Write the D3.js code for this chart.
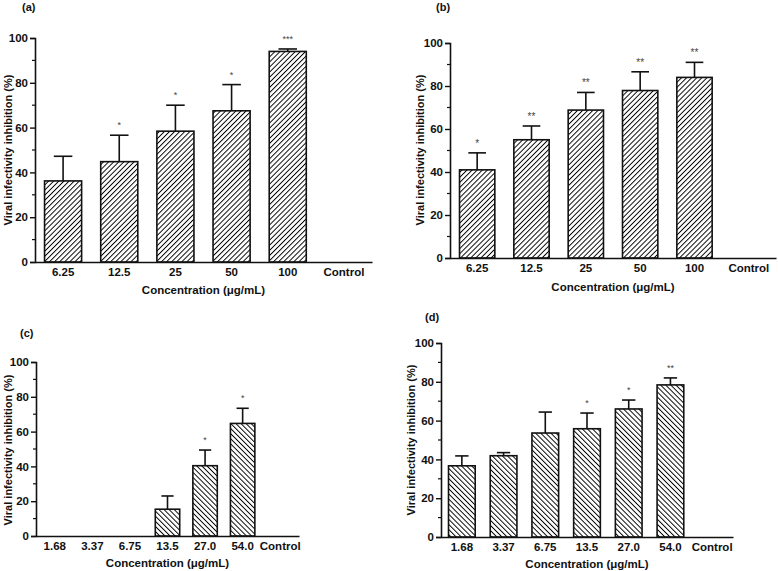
<!DOCTYPE html>
<html><head><meta charset="utf-8">
<script src="https://cdn.jsdelivr.net/npm/d3@7/dist/d3.min.js"></script>
<style>body{margin:0;background:#fff}svg{display:block}text{font-family:"Liberation Sans",Arial,sans-serif}</style>
</head><body>
<svg id="chart" width="778" height="571"></svg>
<script>
// ---- data ----
const catsAB = ["6.25","12.5","25","50","100","Control"];
const catsCD = ["1.68","3.37","6.75","13.5","27.0","54.0","Control"];
const yTicks = [0,20,40,60,80,100];

const meanA = [36.2, 44.8, 58.4, 67.5, 94.0, null];
const errA  = [47.2, 56.6, 70.0, 79.2, 95.1, null];
const starA = ["", "*", "*", "*", "***", ""];

const meanB = [41.0, 55.0, 68.8, 77.9, 84.0, null];
const errB  = [48.9, 61.4, 77.0, 86.6, 91.0, null];
const starB = ["*", "**", "**", "**", "**", ""];

const meanC = [null, null, null, 15.4, 40.4, 64.7, null];
const errC  = [null, null, null, 23.0, 49.4, 73.4, null];
const starC = ["", "", "", "", "*", "*", ""];

const meanD = [36.7, 41.9, 53.6, 55.8, 66.0, 78.4, null];
const errD  = [41.8, 43.5, 64.4, 63.9, 70.6, 82.0, null];
const starD = ["", "", "", "*", "*", "**", ""];

const yTitle = "Viral infectivity inhibition (%)";
const xTitle = "Concentration (\u03bcg/mL)";

const svg = d3.select("#chart");
const defs = svg.append("defs");
function hatch(id, dir){
  const s = 3.6;
  const p = defs.append("pattern").attr("id", id).attr("patternUnits","userSpaceOnUse")
    .attr("width", s).attr("height", s)
    .attr("patternTransform", "rotate(" + (dir > 0 ? 45 : -45) + ")");
  p.append("rect").attr("width",s).attr("height",s).attr("fill","#fff");
  p.append("line").attr("x1",0).attr("y1",0).attr("x2",0).attr("y2",s)
    .attr("stroke","#000").attr("stroke-width",1.9);
}
hatch("hR", 1);
hatch("hL", -1);

function panel(o){
  const g = svg.append("g");
  const x = d3.scaleBand().domain(o.cats).range([o.x0, o.x1]).paddingInner(o.pad).paddingOuter(o.pad/2);
  const y = d3.scaleLinear().domain([0,100]).range([o.y0, o.y1]);
  const data = o.cats.map((c,i)=>({c, m:o.mean[i], e:o.err[i], s:o.star[i]})).filter(d=>d.m!=null);

  // bars
  g.selectAll("rect.bar").data(data).join("rect")
    .attr("x", d=>x(d.c)).attr("width", x.bandwidth())
    .attr("y", d=>y(d.m)).attr("height", d=>y(0)-y(d.m))
    .attr("fill", "url(#" + o.pat + ")").attr("stroke","#111").attr("stroke-width",1.6);
  // error bars
  const cw = x.bandwidth()/2;
  g.selectAll("line.ev").data(data).join("line")
    .attr("x1", d=>x(d.c)+x.bandwidth()/2).attr("x2", d=>x(d.c)+x.bandwidth()/2)
    .attr("y1", d=>y(d.m)).attr("y2", d=>y(d.e)).attr("stroke","#111").attr("stroke-width",1.6);
  g.selectAll("line.ec").data(data).join("line")
    .attr("x1", d=>x(d.c)+x.bandwidth()/2-cw/2).attr("x2", d=>x(d.c)+x.bandwidth()/2+cw/2)
    .attr("y1", d=>y(d.e)).attr("y2", d=>y(d.e)).attr("stroke","#111").attr("stroke-width",1.6);
  // stars
  g.selectAll("text.st").data(data.filter(d=>d.s)).join("text")
    .attr("x", d=>x(d.c)+x.bandwidth()/2).attr("y", d=>y(d.e)-o.starOff)
    .attr("text-anchor","middle").attr("font-size", o.starSize).attr("fill","#444").text(d=>d.s);

  // y axis
  const ya = d3.axisLeft(y).tickValues(yTicks).tickSize(5).tickPadding(2);
  const yg = g.append("g").attr("transform","translate(" + o.x0 + ",0)").call(ya);
  yg.select(".domain").attr("stroke","#111").attr("stroke-width",1.6);
  yg.selectAll(".tick line").attr("stroke","#111").attr("stroke-width",1.4);
  yg.selectAll(".tick text").attr("font-size",11.5).attr("font-weight","bold").attr("fill","#111");
  // minor ticks
  g.selectAll("line.mt").data(d3.range(10,100,20)).join("line")
    .attr("x1", o.x0-3).attr("x2", o.x0).attr("y1", d=>y(d)).attr("y2", d=>y(d))
    .attr("stroke","#111").attr("stroke-width",1.2);

  // x axis
  const xa = d3.axisBottom(x).tickSize(0).tickPadding(o.xPad);
  const xg = g.append("g").attr("transform","translate(0," + o.y0 + ")").call(xa);
  xg.select(".domain").attr("stroke","#111").attr("stroke-width",1.6);
  xg.selectAll(".tick text").attr("font-size",11.5).attr("font-weight","bold").attr("fill","#111");

  // titles
  g.append("text").attr("x", (o.x0+o.x1)/2 + o.xtDx).attr("y", o.y0 + o.xtDy)
    .attr("text-anchor","middle").attr("font-size",11.5).attr("font-weight","bold").attr("fill","#111").text(xTitle);
  g.append("text").attr("transform","translate(" + o.ytX + "," + o.ytY + ") rotate(-90)")
    .attr("text-anchor","middle").attr("font-size",11).attr("font-weight","bold").attr("fill","#111").text(yTitle);
  g.append("text").attr("x", o.lx).attr("y", o.ly)
    .attr("font-size",11).attr("font-weight","bold").attr("fill","#111").text(o.label);
}

panel({cats:catsAB, mean:meanA, err:errA, star:starA, pat:"hR", x0:35, x1:372, y0:262, y1:38, pad:0.34,
  starOff:7, starSize:9, xPad:6, xtDx:0, xtDy:32, ytX:12, ytY:150, lx:22, ly:11, label:"(a)"});
panel({cats:catsAB, mean:meanB, err:errB, star:starB, pat:"hR", x0:450, x1:776, y0:258, y1:43, pad:0.35,
  starOff:6, starSize:10, xPad:6, xtDx:0, xtDy:33, ytX:424, ytY:150, lx:436, ly:11, label:"(b)"});
panel({cats:catsCD, mean:meanC, err:errC, star:starC, pat:"hL", x0:36, x1:299, y0:536, y1:362, pad:0.35,
  starOff:7, starSize:9, xPad:6, xtDx:0, xtDy:31, ytX:12, ytY:450, lx:20, ly:337, label:"(c)"});
panel({cats:catsCD, mean:meanD, err:errD, star:starD, pat:"hL", x0:441, x1:733, y0:537, y1:343, pad:0.36,
  starOff:7, starSize:9, xPad:6, xtDx:0, xtDy:31, ytX:415, ytY:440, lx:425, ly:321, label:"(d)"});
</script>
</body></html>
